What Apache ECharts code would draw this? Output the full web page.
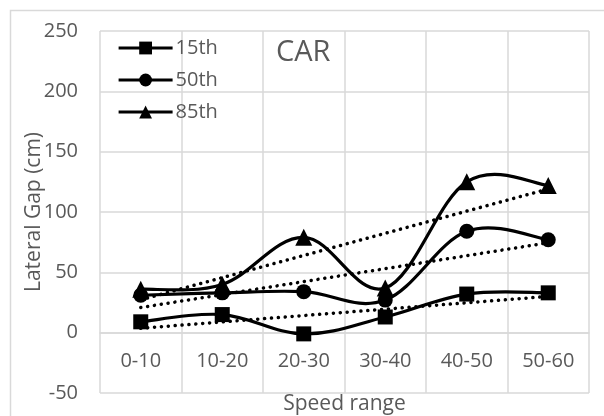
<!DOCTYPE html>
<html><head><meta charset="utf-8">
<script src="https://cdn.jsdelivr.net/npm/echarts@6/dist/echarts.min.js"></script>
<style>html,body{margin:0;padding:0;background:#fff}#c{width:604px;height:416px}</style>
</head><body><div id="c"></div>
<script>
const categories = ['0-10','10-20','20-30','30-40','40-50','50-60'];
const p15 = [9, 15, -1, 13, 32, 33];
const p50 = [31, 33, 34, 27, 84, 77];
const p85 = [36, 40, 79, 37, 125, 122];
const yTicks = {min: -50, max: 250, interval: 50};

function trend(vals) {
  const n = vals.length;
  const xs = vals.map((_, i) => i + 1);
  const mx = xs.reduce((a, b) => a + b, 0) / n;
  const my = vals.reduce((a, b) => a + b, 0) / n;
  let sxy = 0, sxx = 0;
  for (let i = 0; i < n; i++) { sxy += (xs[i] - mx) * (vals[i] - my); sxx += (xs[i] - mx) ** 2; }
  const b = sxy / sxx, a = my - b * mx;
  return xs.map(x => a + b * x);
}

const FONT = '"Open Sans", sans-serif';
const GRAY = '#595959';
const LW = 3.2;
const chart = echarts.init(document.getElementById('c'), null, {renderer: 'canvas'});

// Excel-style smoothed curve drawn through the axes' coordinate conversion
function curveSeries(vals) {
  return {
    type: 'custom', coordinateSystem: 'cartesian2d', silent: true, z: 3,
    data: vals.map((v, i) => [i, v]), encode: {x: 0, y: 1},
    renderItem(params, api) {
      if (params.dataIndex !== 0) return null;
      const pts = vals.map((v, i) => api.coord([i, v]));
      const f = 0.18;
      let d = 'M' + pts[0][0] + ' ' + pts[0][1];
      for (let i = 0; i < pts.length - 1; i++) {
        const p0 = pts[Math.max(i - 1, 0)], p1 = pts[i], p2 = pts[i + 1], p3 = pts[Math.min(i + 2, pts.length - 1)];
        const c1 = [p1[0] + (p2[0] - p0[0]) * f, p1[1] + (p2[1] - p0[1]) * f];
        const c2 = [p2[0] - (p3[0] - p1[0]) * f, p2[1] - (p3[1] - p1[1]) * f];
        d += ' C' + c1[0] + ' ' + c1[1] + ' ' + c2[0] + ' ' + c2[1] + ' ' + p2[0] + ' ' + p2[1];
      }
      return {type: 'path', shape: {pathData: d}, style: {fill: 'none', stroke: '#000', lineWidth: LW}};
    }
  };
}
function markerSeries(name, data, symbol) {
  return {
    name, type: 'line', data, symbol, symbolSize: symbol === 'triangle' ? 17 : 15,
    lineStyle: {color: '#000', width: LW, opacity: 0}, itemStyle: {color: '#000'}, z: 4
  };
}
function trendSeries(data) {
  return {
    type: 'line', data, symbol: 'none', silent: true, z: 2,
    lineStyle: {color: '#000', width: 3.5, type: [0.1, 6.8], cap: 'round'}
  };
}
chart.setOption({
  animation: false,
  backgroundColor: '#fff',
  grid: {left: 100, right: 15, top: 31, bottom: 23, containLabel: false, outerBoundsMode: 'none'},
  graphic: [
    {type: 'rect', shape: {x: 10.5, y: 10.5, width: 600, height: 420}, style: {fill: 'none', stroke: '#d9d9d9', lineWidth: 1.5}, z: -10},
    {type: 'text', left: 276, top: 38, style: {text: 'CAR', font: '29px ' + FONT, fill: GRAY}}
  ],
  legend: {
    data: ['15th', '50th', '85th'], orient: 'vertical', left: 117, top: 38, padding: 0,
    itemWidth: 54, itemHeight: 16, itemGap: 12,
    lineStyle: {color: '#000', width: LW, opacity: 1},
    textStyle: {fontFamily: FONT, fontSize: 20, lineHeight: 20, color: GRAY, padding: [0, 0, 0, -2]}
  },
  xAxis: {
    type: 'category', data: categories, boundaryGap: true, offset: -60.33,
    name: 'Speed range', nameLocation: 'middle', nameGap: 61, nameMoveOverlap: false,
    nameTextStyle: {fontFamily: FONT, fontSize: 21, color: GRAY},
    axisLine: {onZero: false, lineStyle: {color: '#d9d9d9', width: 1.5}},
    axisTick: {show: false},
    axisLabel: {fontFamily: FONT, fontSize: 20, color: GRAY, margin: 19},
    splitLine: {show: true, interval: 0, lineStyle: {color: '#d9d9d9', width: 1.5}}
  },
  yAxis: {
    type: 'value', min: yTicks.min, max: yTicks.max, interval: yTicks.interval,
    name: 'Lateral Gap (cm)', nameLocation: 'middle', nameGap: 55, nameMoveOverlap: false,
    nameTextStyle: {fontFamily: FONT, fontSize: 21, color: GRAY},
    axisLine: {show: false}, axisTick: {show: false},
    axisLabel: {fontFamily: FONT, fontSize: 20, color: GRAY, margin: 22},
    splitLine: {lineStyle: {color: '#d9d9d9', width: 1.5}}
  },
  series: [
    markerSeries('15th', p15, 'rect'),
    markerSeries('50th', p50, 'circle'),
    markerSeries('85th', p85, 'triangle'),
    curveSeries(p15),
    curveSeries(p50),
    curveSeries(p85),
    trendSeries(trend(p15)),
    trendSeries(trend(p50)),
    trendSeries(trend(p85))
  ]
});
</script></body></html>
